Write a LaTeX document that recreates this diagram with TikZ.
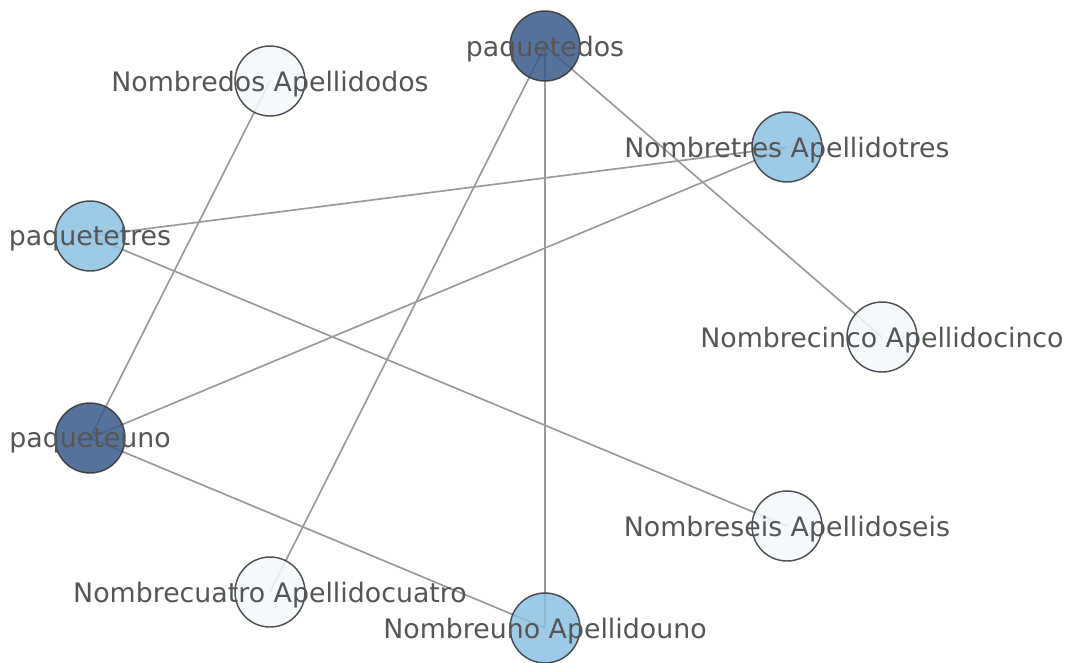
\documentclass[tikz,border=0pt]{standalone}
\usepackage{fontspec}
\setmainfont{DejaVu Sans}
\definecolor{darkblue}{HTML}{3A5A8A}
\definecolor{lightblue}{HTML}{8CC2E3}
\definecolor{paleblue}{HTML}{F3F8FD}
\definecolor{edgegray}{HTML}{999999}
\definecolor{labelgray}{HTML}{555555}
\begin{document}
\begin{tikzpicture}[x=0.75pt,y=-0.75pt,
  vert/.style={circle,draw=black!80,line width=1.1pt,minimum size=52.5pt,inner sep=0pt,fill opacity=0.85,draw opacity=0.85},
  dark/.style={vert,fill=darkblue},
  light/.style={vert,fill=lightblue},
  pale/.style={vert,fill=paleblue},
  lbl/.style={text=labelgray,font=\fontsize{20.1}{23}\selectfont,inner sep=0pt,yshift=-2pt},
  link/.style={draw=edgegray,line width=1.25pt}]
\useasboundingbox (0,0) rectangle (1065,662);
% vertex positions
\coordinate (pdos) at (545,46);
\coordinate (ndos) at (270,81);
\coordinate (ntres) at (787,147);
\coordinate (ptres) at (90,236);
\coordinate (ncinco) at (882,337);
\coordinate (puno) at (90,438);
\coordinate (nseis) at (787,526);
\coordinate (ncuatro) at (270,592);
\coordinate (nuno) at (545,628);
% edges
\draw[link] (pdos) -- (ncinco);
\draw[link] (pdos) -- (nuno);
\draw[link] (pdos) -- (ncuatro);
\draw[link] (ptres) -- (ntres);
\draw[link] (ptres) -- (nseis);
\draw[link] (puno) -- (ndos);
\draw[link] (puno) -- (ntres);
\draw[link] (puno) -- (nuno);
% vertices
\node[dark] (vpdos) at (pdos) {};
\node[pale] (vndos) at (ndos) {};
\node[light] (vntres) at (ntres) {};
\node[light] (vptres) at (ptres) {};
\node[pale] (vncinco) at (ncinco) {};
\node[dark] (vpuno) at (puno) {};
\node[pale] (vnseis) at (nseis) {};
\node[pale] (vncuatro) at (ncuatro) {};
\node[light] (vnuno) at (nuno) {};
% labels
\node[lbl] (lpdos) at (pdos) {paquetedos};
\node[lbl] (lndos) at (ndos) {Nombredos Apellidodos};
\node[lbl] (lntres) at (ntres) {Nombretres Apellidotres};
\node[lbl] (lptres) at (ptres) {paquetetres};
\node[lbl] (lncinco) at (ncinco) {Nombrecinco Apellidocinco};
\node[lbl] (lpuno) at (puno) {paqueteuno};
\node[lbl] (lnseis) at (nseis) {Nombreseis Apellidoseis};
\node[lbl] (lncuatro) at (ncuatro) {Nombrecuatro Apellidocuatro};
\node[lbl] (lnuno) at (nuno) {Nombreuno Apellidouno};
\end{tikzpicture}
\end{document}
